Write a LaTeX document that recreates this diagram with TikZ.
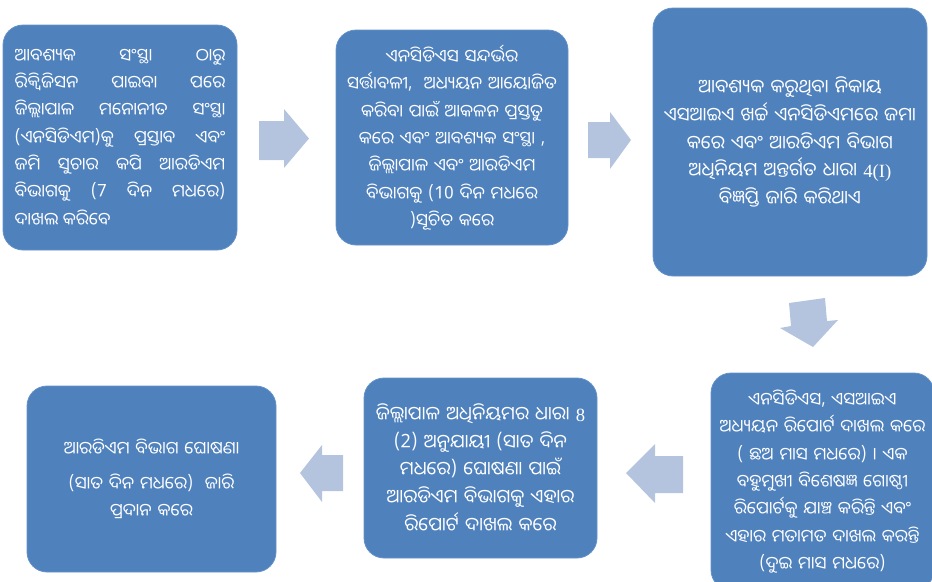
\documentclass[tikz,border=0pt]{standalone}
\usepackage{fontspec}
\newfontfamily\odia[Script=Oriya]{Noto Sans Oriya UI}
\newfontfamily\latinserif{Liberation Serif}
\definecolor{boxblue}{RGB}{79,129,189}
\definecolor{boxedge}{RGB}{100,146,200}
\definecolor{arrowblue}{RGB}{180,196,222}
\begin{document}
\begin{tikzpicture}[x=0.75pt,y=-0.75pt,
  box/.style={draw=boxedge, fill=boxblue, rounded corners=15pt, text=white,
    font=\odia\fontsize{13}{20.5}\selectfont, inner sep=0pt, line width=0.6pt},
  bigtext/.style={font=\odia\fontsize{14}{20.8}\selectfont},
  barrow/.style={fill=arrowblue}]
\useasboundingbox (0,0) rectangle (932,582);

\node[box, minimum width=175.5pt, minimum height=168.75pt, text width=158pt, align=justify] (b1) at (120,137.5)
{ଆବଶ୍ୟକ ସଂସ୍ଥା ଠାରୁ\linebreak
ରିକ୍ୱିଜିସନ ପାଇବା ପରେ\linebreak
ଜିଲ୍ଲାପାଳ ମନୋନୀତ ସଂସ୍ଥା\linebreak
(ଏନସିଡିଏମ)କୁ ପ୍ରସ୍ତାବ ଏବଂ\linebreak
ଜମି ସୁଚାର କପି ଆରଡିଏମ\linebreak
ବିଭାଗକୁ (7 ଦିନ ମଧରେ)\linebreak
ଦାଖଲ କରିବେ};

\node[box, minimum width=174pt, minimum height=161.25pt, text width=165pt, align=center] (b2) at (452,137.5)
{ଏନସିଡିଏସ ସନ୍ଦର୍ଭର\\
ସର୍ତ୍ତାବଳୀ,\ \ ଅଧ୍ୟୟନ ଆୟୋଜିତ\\
କରିବା ପାଇଁ ଆକଳନ ପ୍ରସ୍ତୁତ\\
କରେ ଏବଂ ଆବଶ୍ୟକ ସଂସ୍ଥା ,\\
ଜିଲ୍ଲାପାଳ ଏବଂ ଆରଡିଏମ\\
ବିଭାଗକୁ (10 ଦିନ ମଧରେ\\
)ସୂଚିତ କରେ};

\node[box, bigtext, minimum width=205.5pt, minimum height=201pt, text width=190pt, align=center] (b3) at (790,142)
{ଆବଶ୍ୟକ କରୁଥିବା ନିକାୟ\\
ଏସଆଇଏ ଖର୍ଚ୍ଚ ଏନସିଡିଏମରେ ଜମା\\
କରେ ଏବଂ ଆରଡିଏମ ବିଭାଗ\\
ଅଧିନିୟମ ଅନ୍ତର୍ଗତ ଧାରା {\latinserif 4(I)}\\
ବିଜ୍ଞପ୍ତି ଜାରି କରିଥାଏ};

\node[box, minimum width=167.25pt, minimum height=162.75pt, text width=165pt, align=center] (b4) at (822.5,481.5)
{ଏନସିଡିଏସ, ଏସଆଇଏ\\
ଅଧ୍ୟୟନ ରିପୋର୍ଟ ଦାଖଲ କରେ\\
( ଛଅ ମାସ ମଧରେ) । ଏକ\\
ବହୁମୁଖୀ ବିଶେଷଜ୍ଞ ଗୋଷ୍ଠୀ\\
ରିପୋର୍ଟକୁ ଯାଞ୍ଚ କରିନ୍ତି ଏବଂ\\
ଏହାର ମତାମତ ଦାଖଲ କରନ୍ତି\\
(ଦୁଇ ମାସ ମଧରେ)};

\node[box, bigtext, minimum width=174.75pt, minimum height=135pt, text width=172pt, align=center] (b5) at (480.5,468)
{ଜିଲ୍ଲାପାଳ ଅଧିନିୟମର ଧାରା {\latinserif 8}\\
(2) ଅନୁଯାୟୀ (ସାତ ଦିନ\\
ମଧରେ) ଘୋଷଣା ପାଇଁ\\
ଆରଡିଏମ ବିଭାଗକୁ ଏହାର\\
ରିପୋର୍ଟ ଦାଖଲ କରେ};

\node[box, minimum width=186.75pt, minimum height=139.5pt, text width=165pt, align=center] (b6) at (151.5,479)
{ଆରଡିଏମ ବିଭାଗ ଘୋଷଣା\\[6pt]
(ସାତ ଦିନ ମଧରେ)\ \ ଜାରି\\
ପ୍ରଦାନ କରେ};

% block arrows
\fill[barrow] (259,121) -- (284,121) -- (284,109) -- (309,138.5) -- (284,168) -- (284,160) -- (259,160) -- cycle;
\fill[barrow] (588,122) -- (610,122) -- (610,112) -- (631,140) -- (610,169) -- (610,158) -- (588,158) -- cycle;
\fill[barrow] (789,303) -- (825,298) -- (827,321) -- (838,320) -- (813,347) -- (780,328) -- (791,326) -- cycle;
\fill[barrow] (683,456) -- (655,456) -- (655,444) -- (626,473) -- (655,503) -- (655,493) -- (683,493) -- cycle;
\fill[barrow] (343,455) -- (322,455) -- (322,445) -- (300,473) -- (322,502) -- (322,491) -- (343,491) -- cycle;
\end{tikzpicture}
\end{document}
